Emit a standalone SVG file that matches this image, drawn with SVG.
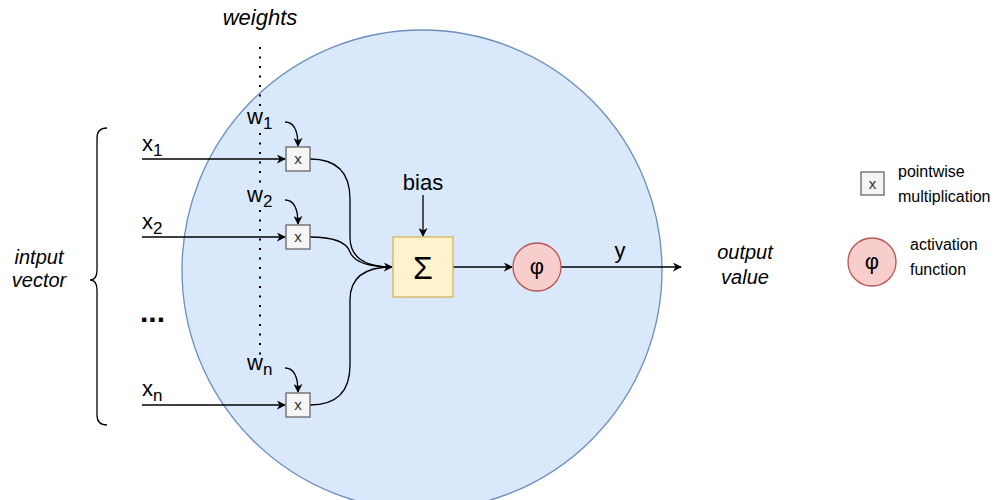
<svg xmlns="http://www.w3.org/2000/svg" width="997" height="500" viewBox="0 0 997 500">
<defs>
<style>
text{font-family:"Liberation Sans",Arial,sans-serif;fill:#000}
.lbl{font-size:22px}
.it{font-style:italic;font-size:20px}
.it22{font-style:italic;font-size:22px}
.leg{font-size:16px}
.sm{font-size:15px;fill:#333}
.edge{fill:none;stroke:#000;stroke-width:1.3}
.dot{fill:none;stroke:#000;stroke-width:2;stroke-dasharray:2 7.5}
.mul{fill:#f5f5f5;stroke:#666;stroke-width:1.3}
.act{fill:#f8cecc;stroke:#b85450;stroke-width:1.3}
</style>
<marker id="ah" viewBox="0 0 10 10" refX="9" refY="5" markerWidth="9" markerHeight="9" markerUnits="userSpaceOnUse" orient="auto">
<path d="M0,0 L10,5 L0,10 L3,5 Z" fill="#000"/>
</marker>
</defs>
<rect width="997" height="500" fill="#fff"/>
<g id="neuron"><circle cx="422" cy="270" r="240" fill="#dae8fc" stroke="#6c8ebf" stroke-width="1.3"/></g>
<g id="weights-axis">
<path class="dot" d="M260 47 V110 M260 133 V188 M260 210 V356"/>
<text class="it22" x="260" y="25" text-anchor="middle">weights</text>
</g>
<g id="brace">
<path class="edge" d="M107 128 Q97 128 97 138 L97 270 Q97 280 90 280 Q97 280 97 290 L97 415 Q97 425 107 425"/>
<text class="it" x="39" y="264" text-anchor="middle">intput</text>
<text class="it" x="39" y="287" text-anchor="middle">vector</text>
</g>
<g id="labels">
<text class="lbl" x="142" y="151">x<tspan font-size="17" dy="5">1</tspan></text>
<text class="lbl" x="142" y="229">x<tspan font-size="17" dy="5">2</tspan></text>
<text class="lbl" x="142" y="396">x<tspan font-size="17" dy="5">n</tspan></text>
<text x="140" y="322" font-size="30" font-weight="bold">...</text>
<text class="lbl" x="247" y="124">w<tspan font-size="17" dy="5">1</tspan></text>
<text class="lbl" x="247" y="202">w<tspan font-size="17" dy="5">2</tspan></text>
<text class="lbl" x="247" y="370">w<tspan font-size="17" dy="5">n</tspan></text>
<text class="lbl" x="423" y="190" text-anchor="middle">bias</text>
<text class="lbl" x="620" y="258" text-anchor="middle">y</text>
<text class="it" x="745" y="259" text-anchor="middle">output</text>
<text class="it" x="745" y="284" text-anchor="middle">value</text>
</g>
<g id="connectors">
<path class="edge" marker-end="url(#ah)" d="M142 159 H285"/>
<path class="edge" marker-end="url(#ah)" d="M142 237 H285"/>
<path class="edge" marker-end="url(#ah)" d="M142 405 H285"/>
<path class="edge" marker-end="url(#ah)" d="M285 122 Q298 122 298 146"/>
<path class="edge" marker-end="url(#ah)" d="M285 200 Q298 200 298 224"/>
<path class="edge" marker-end="url(#ah)" d="M285 368 Q298 368 298 392"/>
<path class="edge" marker-end="url(#ah)" d="M310 159 Q350 159 350 199 L350 237 Q350 267 392 267"/>
<path class="edge" d="M310 237 Q345 237 350 252 Q356 267 392 267"/>
<path class="edge" d="M310 405 Q350 405 350 365 L350 300 Q350 267 392 267"/>
<path class="edge" marker-end="url(#ah)" d="M423 195 V236"/>
<path class="edge" marker-end="url(#ah)" d="M453 267 H512"/>
<path class="edge" marker-end="url(#ah)" d="M561 267 H681"/>
</g>
<g id="mul1"><rect class="mul" x="286" y="147" width="24" height="24"/><text class="sm" x="298" y="164" text-anchor="middle">x</text></g>
<g id="mul2"><rect class="mul" x="286" y="225" width="24" height="24"/><text class="sm" x="298" y="242" text-anchor="middle">x</text></g>
<g id="muln"><rect class="mul" x="286" y="393" width="24" height="24"/><text class="sm" x="298" y="410" text-anchor="middle">x</text></g>
<g id="sum"><rect x="393" y="237" width="60" height="60" fill="#fff2cc" stroke="#d6b656" stroke-width="1.3"/><text x="423" y="279" font-size="32" text-anchor="middle">Σ</text></g>
<g id="phi"><circle class="act" cx="537" cy="267" r="24"/><text x="537" y="274" font-size="22" text-anchor="middle">φ</text></g>
<g id="legend-mul"><rect class="mul" x="861" y="172" width="23" height="23"/><text class="sm" x="872.5" y="189" text-anchor="middle">x</text>
<text class="leg" x="898" y="177">pointwise</text><text class="leg" x="898" y="202">multiplication</text></g>
<g id="legend-act"><circle class="act" cx="872" cy="262" r="24"/><text x="872" y="269" font-size="22" text-anchor="middle">φ</text>
<text class="leg" x="910" y="250">activation</text><text class="leg" x="910" y="275">function</text></g>
</svg>
